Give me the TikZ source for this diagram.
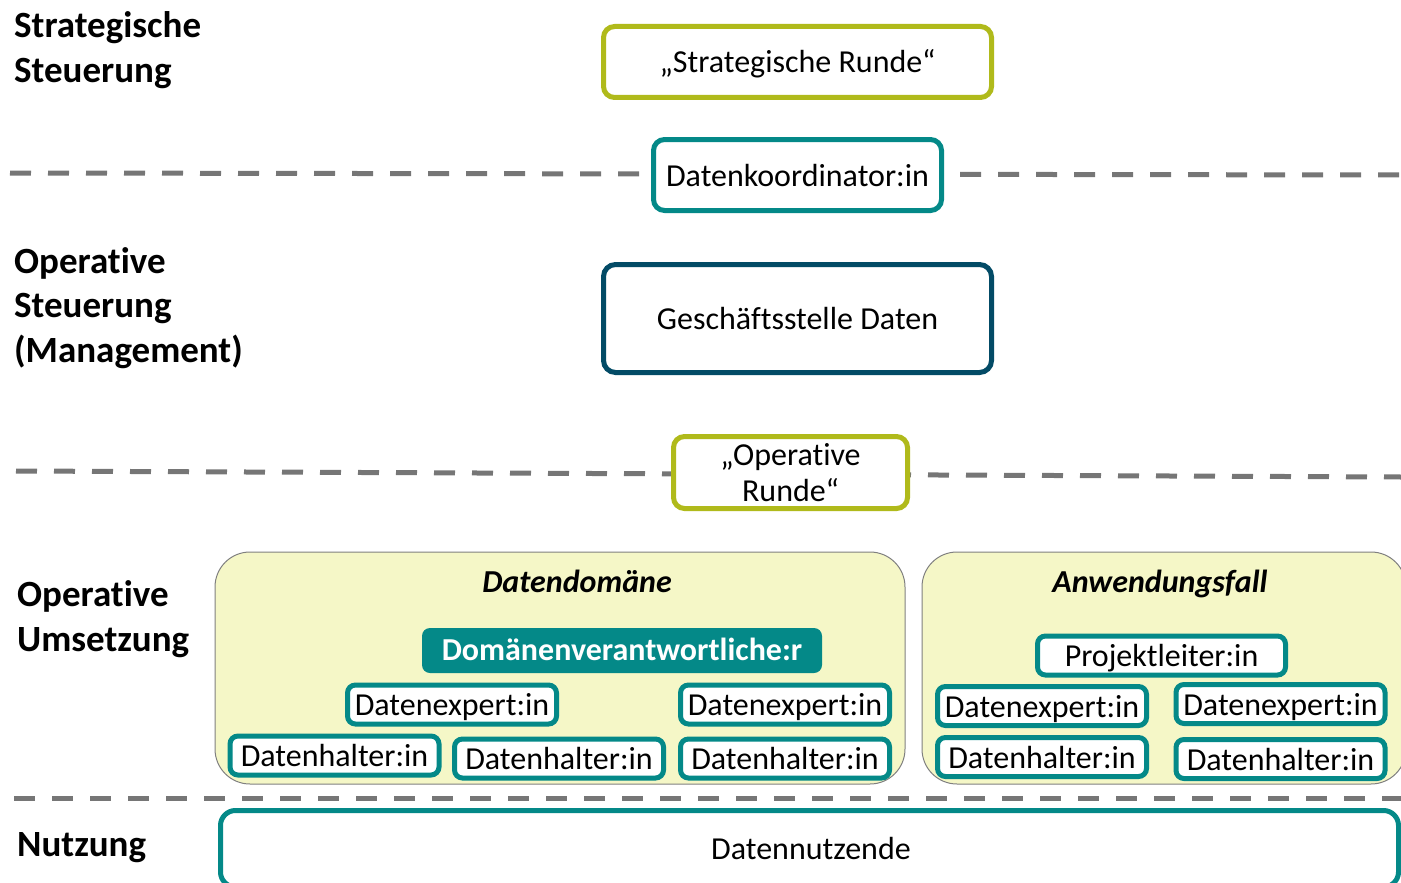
\documentclass[tikz,border=0pt]{standalone}
\usepackage{fontspec}
\setmainfont{Carlito}[Ligatures=NoCommon]
\usetikzlibrary{positioning}
\definecolor{oliv}{RGB}{176,186,27}
\definecolor{petrol}{RGB}{4,137,136}
\definecolor{dunkelblau}{RGB}{3,75,102}
\definecolor{hellgelb}{RGB}{245,247,199}
\definecolor{trenngrau}{RGB}{118,118,118}
\tikzstyle{einzeilig} = [text height=24pt, text depth=2pt]
\tikzstyle{gremium} = [rectangle, rounded corners=11pt, line width=5pt, draw=oliv, fill=white, minimum width=388pt, minimum height=71pt, inner sep=0pt, align=center, font=\fontsize{32}{36}\selectfont]
\tikzstyle{stelle} = [rectangle, rounded corners=12pt, line width=5pt, draw=dunkelblau, fill=white, minimum width=388pt, minimum height=108pt, einzeilig, font=\fontsize{32}{38}\selectfont]
\tikzstyle{rolle} = [rectangle, rounded corners=8pt, line width=5pt, draw=petrol, fill=white, minimum width=209pt, minimum height=39pt, inner sep=0pt, einzeilig, font=\fontsize{32}{38}\selectfont]
\tikzstyle{bereich} = [rectangle, rounded corners=35pt, draw=gray, line width=1pt, fill=hellgelb, minimum width=690pt, minimum height=232pt]
\tikzstyle{titel} = [anchor=base, inner sep=0pt, font=\fontsize{32}{38}\selectfont\bfseries\itshape]
\tikzstyle{ebene} = [anchor=base west, align=left, inner sep=0pt, font=\fontsize{37}{44.5}\selectfont\bfseries]
\tikzstyle{trenner} = [line width=5pt, draw=trenngrau, dash pattern=on 21pt off 17pt]
\begin{document}
\begin{tikzpicture}[x=1pt, y=-1pt]
		\clip (0,0) rectangle (1401,883);
		% Trennlinien
		\coordinate (TrennerAW) at (10,173);
		\coordinate (TrennerAO) at (1401,175);
		\coordinate (TrennerBW) at (16,471);
		\coordinate (TrennerBO) at (1401,477);
		\coordinate (TrennerCW) at (14,798);
		\coordinate (TrennerCO) at (1401,798);
		\draw [trenner] (TrennerAW) -- (TrennerAO);
		\draw [trenner] (TrennerBW) -- (TrennerBO);
		\draw [trenner] (TrennerCW) -- (TrennerCO);
		% Ebenen (Grundlinie der letzten Zeile)
		\node (EbeneStrategisch) [ebene] at (14,82) {Strategische\\Steuerung};
		\node (EbeneOperativ) [ebene] at (14,362) {Operative\\Steuerung\\(Management)};
		\node (EbeneUmsetzung) [ebene] at (17,651) {Operative\\Umsetzung};
		\node (EbeneNutzung) [ebene] at (17,856) {Nutzung};
		% Steuerung
		\node (StrategischeRunde) [gremium, einzeilig] at (797.5,62) {„Strategische Runde“};
		\node (Koordinator) [rolle, minimum width=288pt, minimum height=71pt, rounded corners=11pt, below = 37pt of StrategischeRunde] {Datenkoordinator:in};
		\node (Geschaeftsstelle) [stelle, below = 49pt of Koordinator] {Geschäftsstelle Daten};
		\node (OperativeRunde) [gremium, minimum width=234pt, minimum height=72pt] at (790.5,472.5) {„Operative\\Runde“};
		% Umsetzung
		\node (Datendomaene) [bereich] at (560,668) {};
		\node (Anwendungsfall) [bereich, minimum width=484pt] at (1164,668) {};
		\node (DatendomaeneTitel) [titel] at (577,592) {Datendomäne};
		\node (AnwendungsfallTitel) [titel] at (1160,592) {Anwendungsfall};
		\node (Verantwortlich) [rectangle, rounded corners=8pt, fill=petrol, text=white, minimum width=400pt, minimum height=45pt, inner sep=0pt, text height=23pt, text depth=3pt, font=\fontsize{32}{38}\selectfont\bfseries] at (622,650.5) {Domänenverantwortliche:r};
		\node (ExpertA) [rolle] at (452,704.5) {Datenexpert:in};
		\node (ExpertB) [rolle, right = 119pt of ExpertA] {Datenexpert:in};
		\node (HalterC) [rolle, below = 10pt of ExpertB] {Datenhalter:in};
		\node (HalterB) [rolle, left = 12pt of HalterC] {Datenhalter:in};
		\node (HalterA) [rolle] at (334.5,755.5) {Datenhalter:in};
		\node (Projektleiter) [rolle, minimum width=248pt] at (1161.5,655.5) {Projektleiter:in};
		\node (ExpertC) [rolle] at (1042,706) {Datenexpert:in};
		\node (ExpertD) [rolle] at (1280.5,704) {Datenexpert:in};
		\node (HalterD) [rolle, below = 7pt of ExpertC] {Datenhalter:in};
		\node (HalterE) [rolle, below = 11pt of ExpertD] {Datenhalter:in};
		% Nutzung
		\node (Nutzende) [rolle, rounded corners=15pt, minimum width=1178pt, minimum height=76.5pt] at (809.5,848.75) {};
		\node (NutzendeText) [anchor=base, inner sep=0pt, font=\fontsize{32}{38}\selectfont] at (811,859) {Datennutzende};
		\end{tikzpicture}
\end{document}
